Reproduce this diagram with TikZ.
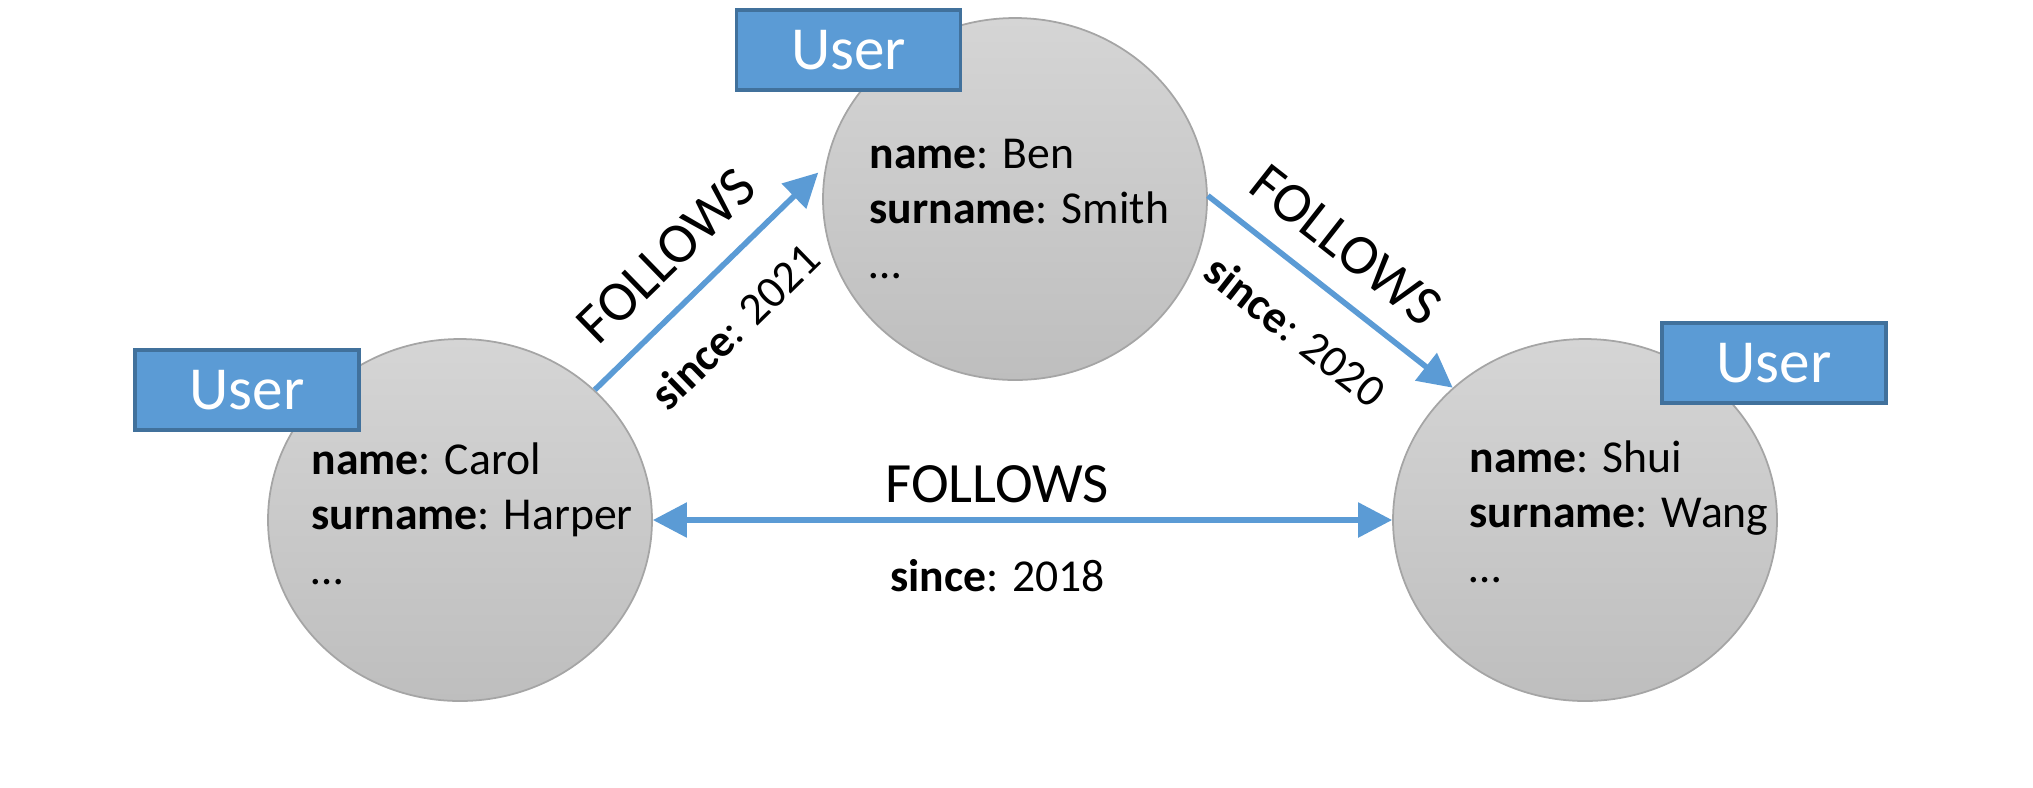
\documentclass[tikz,border=0pt]{standalone}
\usepackage{fontspec}
\setmainfont{Carlito}
\definecolor{UserBlue}{RGB}{91,155,213}
\definecolor{UserEdge}{RGB}{65,113,156}
\definecolor{NodeTop}{RGB}{213,213,213}
\definecolor{NodeBottom}{RGB}{190,190,190}
\definecolor{NodeEdge}{RGB}{165,165,165}
\usepackage{tikz}
\usetikzlibrary{arrows.meta,positioning,shapes.geometric}

\begin{document}
\begin{tikzpicture}[
  person/.style={ellipse,draw=NodeEdge,line width=0.5pt,top color=NodeTop,bottom color=NodeBottom,
    minimum width=3.84cm,minimum height=3.62cm},
  usertag/.style={draw=UserEdge,line width=1pt,fill=UserBlue,text=white,
    minimum width=2.24cm,minimum height=0.8cm,font=\fontsize{17.4}{20}\selectfont},
  props/.style={anchor=north west,align=left,inner sep=0pt,
    font=\fontsize{13}{15.65}\selectfont},
  rel/.style={-{Triangle[length=3.4mm,width=3.4mm]},line width=1.6pt,UserBlue},
  birel/.style={{Triangle[length=3.4mm,width=3.4mm]}-{Triangle[length=3.4mm,width=3.4mm]},
    line width=1.6pt,UserBlue},
  reltype/.style={inner sep=0pt,text=black,font=\fontsize{16.2}{19}\selectfont},
  relprop/.style={inner sep=0pt,text=black,font=\fontsize{13}{15.65}\selectfont}
]
\useasboundingbox (0,0) rectangle (20.33,-7.87);
\node[person] (carol) at (4.60,-5.20) {};
\node[person] (ben) at (10.15,-1.99) {};
\node[person] (shui) at (15.85,-5.20) {};
\node[usertag] (caroltag) at (2.47,-3.90) {User};
\node[usertag] (bentag) at (8.485,-0.50) {User};
\node[usertag] (shuitag) at (17.74,-3.63) {User};
\node[props] (carolprops) at (3.11,-4.355) {\strut\textbf{name}: Carol\\\textbf{surname}: Harper\\\ldots};
\node[props] (benprops) at (8.69,-1.295) {\strut\textbf{name}: Ben\\\textbf{surname}: Smith\\\ldots};
\node[props] (shuiprops) at (14.69,-4.335) {\strut\textbf{name}: Shui\\\textbf{surname}: Wang\\\ldots};
\draw[rel,shorten >=1mm] (carol.44) -- (ben.170)
  node[reltype,sloped,above=0.25cm,pos=0.45] (follows1) {FOLLOWS}
  node[relprop,sloped,below=0.33cm,pos=0.45] (since1) {\textbf{since}: 2021};
\draw[rel] (ben.1) -- (shui.135)
  node[reltype,sloped,above=0.25cm,pos=0.447] (follows2) {FOLLOWS}
  node[relprop,sloped,below=0.33cm,pos=0.49] (since2) {\textbf{since}: 2020};
\draw[birel] (carol) -- (shui)
  node[reltype,above=0.14cm,pos=0.466] (follows3) {FOLLOWS}
  node[relprop,below=0.37cm,pos=0.466] (since3) {\textbf{since}: 2018};
\end{tikzpicture}
\end{document}
